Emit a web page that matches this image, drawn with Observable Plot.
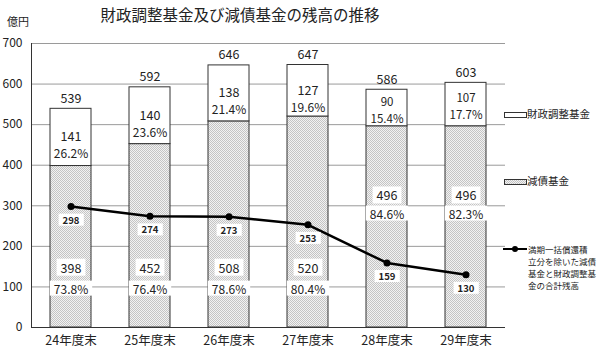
<!DOCTYPE html>
<html><head><meta charset="utf-8">
<script src="https://cdn.jsdelivr.net/npm/d3@7"></script>
<script src="https://cdn.jsdelivr.net/npm/@observablehq/plot@0.6"></script>
<style>
body{margin:0;background:#fff;font-family:"Noto Sans CJK JP","Noto Sans",sans-serif;}
#wrap{position:relative;width:600px;height:354px;overflow:hidden;}
#title{position:absolute;left:0;width:480px;top:3px;text-align:center;font-size:15.5px;color:#222;}
#unit{position:absolute;left:7px;top:13px;font-size:11px;color:#222;}
.lg{position:absolute;color:#222;white-space:nowrap;z-index:2;}
.sw{position:absolute;width:21px;height:4px;border:1px solid #333;z-index:2;}
</style></head>
<body><div id="wrap">
<div id="title">財政調整基金及び減債基金の残高の推移</div>
<div id="unit">億円</div>
<div class="sw" style="left:504px;top:112px;background:#fff"></div>
<div class="lg" style="left:527px;top:107px;font-size:10.5px;line-height:14px">財政調整基金</div>
<div class="sw" style="left:504px;top:179px;background:repeating-conic-gradient(#c4c4c4 0 25%,#f2f2f2 0 50%) 0 0/2px 2px"></div>
<div class="lg" style="left:527px;top:174px;font-size:10.5px;line-height:14px">減債基金</div>
<div style="position:absolute;left:503px;top:248px;width:24px;height:2px;background:#000;z-index:2"></div>
<div style="position:absolute;left:512px;top:246px;width:6px;height:6px;border-radius:3px;background:#000;z-index:2"></div>
<div class="lg" style="left:528px;top:243px;font-size:8.5px;line-height:12px">満期一括償還積<br>立分を除いた減債<br>基金と財政調整基<br>金の合計残高</div>
</div>
<script>
const years = ["24年度末","25年度末","26年度末","27年度末","28年度末","29年度末"];
const fiscalFund = [141,140,138,127,90,107];
const debtFund = [398,452,508,520,496,496];
const fiscalPct = ["26.2%","23.6%","21.4%","19.6%","15.4%","17.7%"];
const debtPct = ["73.8%","76.4%","78.6%","80.4%","84.6%","82.3%"];
const totals = [539,592,646,647,586,603];
const lineVals = [298,274,273,253,159,130];
const yTicks = [0,100,200,300,400,500,600,700];

const data = years.map((y,i)=>({year:y, fiscal:fiscalFund[i], debt:debtFund[i], fp:fiscalPct[i], dp:debtPct[i], total:totals[i], line:lineVals[i]}));
const low = d => d.line < 200;
const wide = data.filter(d=>!low(d)), narrow = data.filter(low);

const chart = Plot.plot({
  width:600, height:354,
  marginLeft:31, marginRight:95, marginTop:43, marginBottom:27,
  style:{fontFamily:'"Noto Sans CJK JP","Noto Sans",sans-serif', color:"#222", background:"transparent"},
  x:{domain:years, paddingInner:0.48, paddingOuter:0.24, label:null},
  y:{domain:[0,700], label:null},
  marks:[
    Plot.ruleY(yTicks.slice(1), {stroke:"#9a9a9a", strokeWidth:1}),
    Plot.barY(data, {x:"year", y1:0, y2:"debt", fill:"url(#dotpat)", stroke:"#333", strokeWidth:1}),
    Plot.barY(data, {x:"year", y1:"debt", y2:"total", fill:"#fff", stroke:"#333", strokeWidth:1}),
    Plot.ruleY([0], {stroke:"#333", strokeWidth:1.2}),
    Plot.frame({anchor:"left", stroke:"#333"}),
    Plot.axisY({ticks:yTicks, tickSize:0, tickPadding:9, fontSize:12, tickFormat:d=>d}),
    Plot.axisX({tickSize:0, tickPadding:9, fontSize:12.5}),
    Plot.text(data, {x:"year", y:"total", text:d=>String(d.total), dy:-10, fontSize:12.5}),
    Plot.text(wide, {x:"year", y:d=>(d.debt+d.total)/2, text:d=>String(d.fiscal), fontSize:12.5}),
    Plot.text(wide, {x:"year", y:d=>(d.debt+d.total)/2, text:"fp", dy:17, fontSize:12}),
    Plot.text(narrow, {x:"year", y:d=>(d.debt+d.total)/2, text:d=>String(d.fiscal), dy:-6, fontSize:11.5}),
    Plot.text(narrow, {x:"year", y:d=>(d.debt+d.total)/2, text:"fp", dy:11, fontSize:11.5}),
    Plot.text(data, {x:"year", y:d=>low(d)?323:145, text:d=>String(d.debt), fontSize:12.5, className:"boxed"}),
    Plot.text(data, {x:"year", y:d=>low(d)?278:93, text:"dp", fontSize:12, className:"boxed"}),
    Plot.line(data, {x:"year", y:"line", stroke:"#000", strokeWidth:2.5}),
    Plot.dot(data, {x:"year", y:"line", r:3.5, fill:"#000"}),
    Plot.text(data, {x:"year", y:"line", text:d=>String(d.line), dy:14, fontSize:9.5, fontWeight:"bold", className:"boxed"})
  ]
});

const svg = d3.select(chart);
const defs = svg.insert("defs", ":first-child");
const pat = defs.append("pattern").attr("id","dotpat").attr("width",2).attr("height",2).attr("patternUnits","userSpaceOnUse");
pat.append("rect").attr("width",2).attr("height",2).attr("fill","#f2f2f2");
pat.append("rect").attr("width",1).attr("height",1).attr("fill","#c4c4c4");
pat.append("rect").attr("x",1).attr("y",1).attr("width",1).attr("height",1).attr("fill","#c4c4c4");

chart.style.position="absolute"; chart.style.left="0"; chart.style.top="0"; chart.style.zIndex="1";
document.getElementById("wrap").appendChild(chart);

svg.selectAll("g.boxed text").each(function(){
  const b=this.getBBox();
  const tr=this.getAttribute("transform");
  const r=d3.select(this.parentNode).insert("rect",()=>this)
    .attr("x",b.x-4).attr("y",b.y+1).attr("width",b.width+8).attr("height",b.height-2).attr("fill","#fff");
  if(tr) r.attr("transform",tr);
});
</script></body></html>
